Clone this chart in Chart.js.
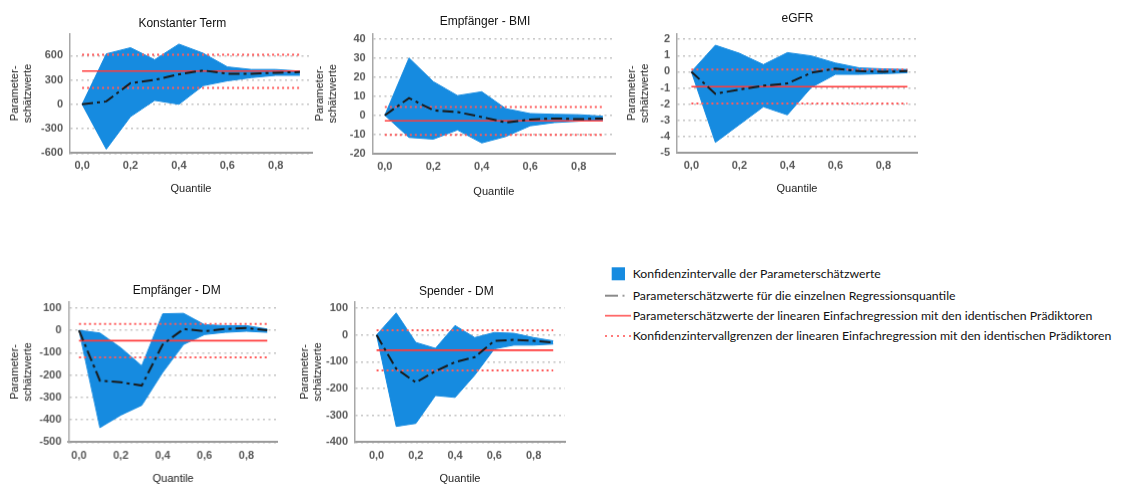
<!DOCTYPE html>
<html>
<head>
<meta charset="utf-8">
<script src="https://cdn.jsdelivr.net/npm/chart.js@4"></script>
<style>
  html, body { margin:0; padding:0; background:#fff; width:1124px; height:484px; overflow:hidden; }
  body { position:relative; font-family:"Liberation Sans", Arial, sans-serif; }
  .panel { position:absolute; }
  .ptitle { position:absolute; font-size:12px; line-height:12px; color:#111; white-space:nowrap; transform:translate(-50%,-50%); }
  .leg { position:absolute; white-space:nowrap; color:#111; font-family:Lato, "Open Sans", sans-serif; }
  svg.sw { position:absolute; overflow:visible; }
</style>
</head>
<body>
<script>
// ---------- data ----------
const quantiles = [0.0, 0.1, 0.2, 0.3, 0.4, 0.5, 0.6, 0.7, 0.8, 0.9];
const xTicks = [0.0, 0.2, 0.4, 0.6, 0.8];

const panelTitles = ["Konstanter Term", "Empfänger - BMI", "eGFR", "Empfänger - DM", "Spender - DM"];
const yAxisTitle = ["Parameter-", "schätzwerte"];
const xAxisTitle = "Quantile";

// Konstanter Term
const konstLower = [0, -552, -152, 48, 0, 228, 288, 328, 356, 356];
const konstUpper = [0, 620, 696, 548, 740, 628, 460, 428, 428, 408];
const konstEst   = [0, 36, 260, 300, 368, 416, 376, 376, 388, 396];
const konstOls   = [408, 200, 608];           // estimate, CI low, CI high
const konstTicks = [-600, -300, 0, 300, 600];

// Empfänger - BMI
const bmiLower = [0, -11.6, -12.5, -7.7, -14.5, -11.1, -5.5, -3.8, -3.1, -2.6];
const bmiUpper = [0, 30, 17.6, 10.3, 12.3, 3.4, 0.9, 0.5, 0.3, -0.5];
const bmiEst   = [0, 9, 2.6, 1.7, -0.9, -3.8, -2.2, -1.7, -2, -1.7];
const bmiOls   = [-2.9, -10.3, 4.3];
const bmiTicks = [-20, -10, 0, 10, 20, 30, 40];

// eGFR
const egfrLower = [0, -4.36, -3.26, -2.16, -2.66, -0.96, -0.16, -0.16, -0.12, -0.06];
const egfrUpper = [0, 1.64, 1.14, 0.44, 1.18, 0.98, 0.54, 0.24, 0.18, 0.14];
const egfrEst   = [0, -1.36, -1.1, -0.86, -0.72, -0.06, 0.2, 0.04, 0, 0.04];
const egfrOls   = [-0.92, -1.96, 0.14];
const egfrTicks = [-5, -4, -3, -2, -1, 0, 1, 2];

// Empfänger - DM
const eDmLower = [0, -435, -379, -335, -188, -63, -19, -9, -4, -9];
const eDmUpper = [0, -12, -78, -159, 74, 76, 25, 21, 21, 6];
const eDmEst   = [0, -225, -232, -247, -63, 6, -4, 6, 10, 0];
const eDmOls   = [-46, -121, 29];
const eDmTicks = [-500, -400, -300, -200, -100, 0, 100];

// Spender - DM
const sDmLower = [0, -341, -330, -226, -233, -150, -52, -38, -38, -34];
const sDmUpper = [0, 82, -28, -50, 35, -10, 9, 6, -10, -22];
const sDmEst   = [0, -126, -177, -135, -101, -83, -22, -18, -22, -28];
const sDmOls   = [-57, -132, 18];
const sDmTicks = [-400, -300, -200, -100, 0, 100];

const legendLabels = [
  "Konfidenzintervalle der Parameterschätzwerte",
  "Parameterschätzwerte für die einzelnen Regressionsquantile",
  "Parameterschätzwerte der linearen Einfachregression mit den identischen Prädiktoren",
  "Konfidenzintervallgrenzen der linearen Einfachregression mit den identischen Prädiktoren"
];

// ---------- layout (positions / styles) ----------
const BLUE = "#168be0";
const RED = "#ff3b3b";
const RED_DOT = "#ff5a5a";

const panels = [
  {lower:konstLower, upper:konstUpper, est:konstEst, ols:konstOls, ticks:konstTicks,
   L:70, T:30, R:312, B:152.3, yMin:-600, yMax:868, xMin:-0.05, xMax:0.95, yW:65, xH:46.6, tx:182.3, ty:22.7},
  {lower:bmiLower, upper:bmiUpper, est:bmiEst, ols:bmiOls, ticks:bmiTicks,
   L:372.7, T:30, R:615, B:152.7, yMin:-20, yMax:42.7, xMin:-0.05, xMax:0.95, yW:62.7, xH:48.9, tx:485, ty:20.7},
  {lower:egfrLower, upper:egfrUpper, est:egfrEst, ols:egfrOls, ticks:egfrTicks,
   L:676.7, T:30, R:916.7, B:152, yMin:-5, yMax:2.35, xMin:-0.06, xMax:0.94, yW:55, xH:46.9, tx:797.5, ty:18.3},
  {lower:eDmLower, upper:eDmUpper, est:eDmEst, ols:eDmOls, ticks:eDmTicks,
   L:68.3, T:298.3, R:276.7, B:441.7, yMin:-500, yMax:128, xMin:-0.05, xMax:0.95, yW:63.3, xH:47.2, tx:176.7, ty:290},
  {lower:sDmLower, upper:sDmUpper, est:sDmEst, ols:sDmOls, ticks:sDmTicks,
   L:355, T:298.3, R:565, B:441.7, yMin:-400, yMax:124, xMin:-0.11, xMax:0.96, yW:60, xH:47.2, tx:456.3, ty:290.7}
];

Chart.defaults.font.family = '"Liberation Sans", Arial, sans-serif';
Chart.defaults.animation = false;

function pts(arr) { return arr.map((y, i) => ({x: quantiles[i], y: y})); }
function flat(v) { return [{x: quantiles[0], y: v}, {x: quantiles[quantiles.length - 1], y: v}]; }

const PAD_TOP = 10, PAD_RIGHT = 6;

panels.forEach((p, idx) => {
  const div = document.createElement("div");
  div.className = "panel";
  const w = p.yW + (p.R - p.L) + PAD_RIGHT;
  const h = PAD_TOP + (p.B - p.T) + p.xH;
  div.style.left = (p.L - p.yW) + "px";
  div.style.top = (p.T - PAD_TOP) + "px";
  div.style.width = w + "px";
  div.style.height = h + "px";
  const cv = document.createElement("canvas");
  div.appendChild(cv);
  document.body.appendChild(div);

  const t = document.createElement("div");
  t.className = "ptitle";
  t.textContent = panelTitles[idx];
  t.style.left = p.tx + "px";
  t.style.top = p.ty + "px";
  document.body.appendChild(t);

  new Chart(cv, {
    type: "line",
    data: {
      datasets: [
        {data: pts(p.lower), borderColor: BLUE, backgroundColor: BLUE, borderWidth: 1, pointRadius: 0, fill: false, order: 10, tension: 0},
        {data: pts(p.upper), borderColor: BLUE, backgroundColor: BLUE, borderWidth: 1, pointRadius: 0, fill: "-1", order: 9, tension: 0},
        {data: flat(p.ols[1]), borderColor: RED_DOT, borderDash: [2, 3], borderWidth: 2, pointRadius: 0, fill: false, order: 5},
        {data: flat(p.ols[2]), borderColor: RED_DOT, borderDash: [2, 3], borderWidth: 2, pointRadius: 0, fill: false, order: 5},
        {data: flat(p.ols[0]), borderColor: RED, borderWidth: 1.6, pointRadius: 0, fill: false, order: 4},
        {data: pts(p.est), borderColor: "#1a1a1a", borderDash: [11, 4, 3, 4], borderWidth: 2, pointRadius: 0, fill: false, order: 1, tension: 0}
      ]
    },
    options: {
      responsive: true,
      maintainAspectRatio: false,
      animation: false,
      events: [],
      layout: {padding: {top: PAD_TOP, right: PAD_RIGHT, left: 0, bottom: 0}},
      plugins: {legend: {display: false}, tooltip: {enabled: false}, title: {display: false}},
      scales: {
        x: {
          type: "linear", min: p.xMin, max: p.xMax,
          afterBuildTicks: s => { s.ticks = xTicks.map(v => ({value: v})); },
          afterFit: s => { s.height = p.xH; },
          grid: {display: false, drawTicks: false},
          border: {display: true, color: "#9a9a9a", width: 2},
          ticks: {padding: 6.5, color: "#5a5a5a", font: {size: 11, weight: "bold"},
                  callback: v => Number(v).toFixed(1).replace(".", ",")},
          title: {display: true, text: xAxisTitle, color: "#222", font: {size: 11}, padding: {top: 4, bottom: 4}}
        },
        y: {
          type: "linear", min: p.yMin, max: p.yMax,
          afterBuildTicks: s => { s.ticks = p.ticks.map(v => ({value: v})); },
          afterFit: s => { s.width = p.yW; },
          grid: {display: true, drawTicks: false, color: "#c4c4c4", lineWidth: 1.5},
          border: {display: true, color: "#a8a8a8", width: 1.5, dash: [2, 3.5]},
          ticks: {padding: 7, color: "#5a5a5a", font: {size: 11, weight: "bold"},
                  callback: v => String(v)},
          title: {display: true, text: yAxisTitle, color: "#222", font: {size: 11, lineHeight: 1.12}, padding: {top: 4, bottom: 4}}
        }
      }
    }
  });
});

// ---------- legend ----------
(function () {
  const rowsY = [274.3, 295.7, 315.7, 336];
  const textLeft = 632.7;
  const targetWidth = 479;
  const mc = document.createElement("canvas").getContext("2d");
  let fs = 13;
  mc.font = fs + "px Lato";
  const wm = mc.measureText(legendLabels[3]).width;
  fs = fs * targetWidth / wm;

  legendLabels.forEach((txt, i) => {
    const d = document.createElement("div");
    d.className = "leg";
    d.textContent = txt;
    d.style.fontSize = fs.toFixed(2) + "px";
    d.style.lineHeight = fs.toFixed(2) + "px";
    d.style.left = textLeft + "px";
    d.style.top = (rowsY[i] - fs / 2) + "px";
    document.body.appendChild(d);
  });

  const ns = "http://www.w3.org/2000/svg";
  const svg = document.createElementNS(ns, "svg");
  svg.setAttribute("class", "sw");
  svg.setAttribute("width", "40");
  svg.setAttribute("height", "90");
  svg.style.left = "600px";
  svg.style.top = "260px";
  svg.innerHTML =
    '<rect x="11.7" y="7.3" width="13.3" height="13" fill="' + BLUE + '"/>' +
    '<line x1="5" y1="35.7" x2="18" y2="35.7" stroke="#8a8a8a" stroke-width="2"/>' +
    '<line x1="22.5" y1="35.7" x2="24.5" y2="35.7" stroke="#9a9a9a" stroke-width="2"/>' +
    '<line x1="5" y1="55.7" x2="31" y2="55.7" stroke="#ff6a6a" stroke-width="1.8"/>' +
    '<line x1="5" y1="76" x2="31" y2="76" stroke="#ff7a7a" stroke-width="1.8" stroke-dasharray="2 4"/>';
  document.body.appendChild(svg);
})();
</script>
</body>
</html>
